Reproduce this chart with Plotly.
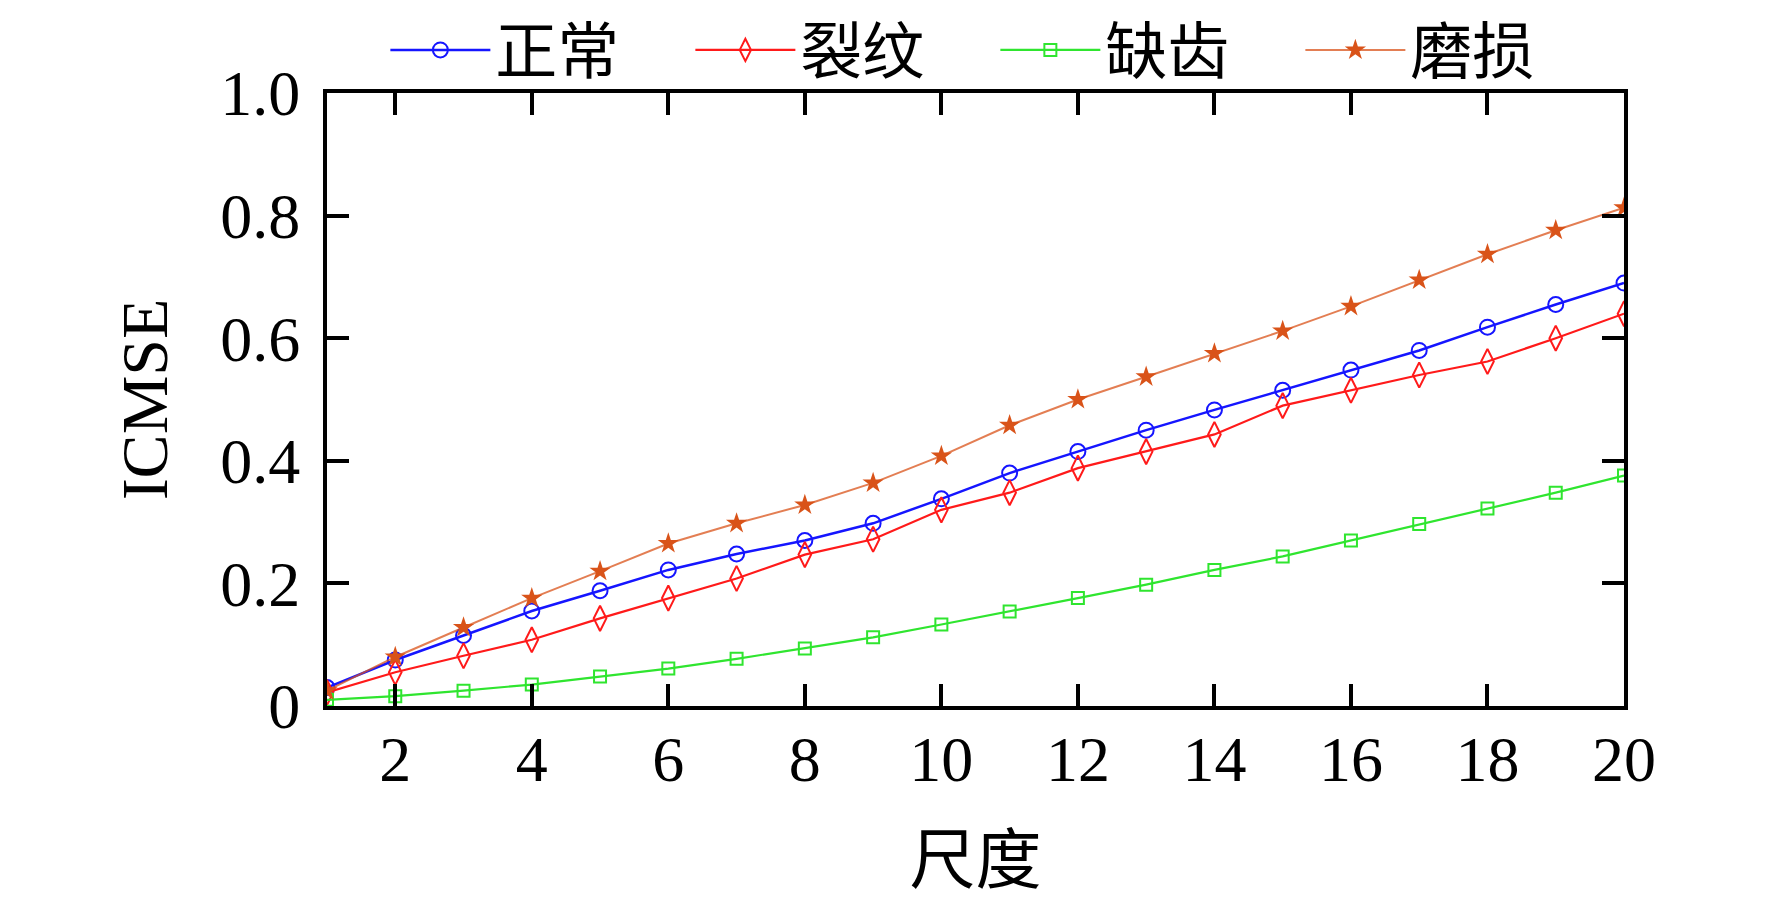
import plotly.graph_objects as go

# 尺度 1..20
scales = list(range(1, 21))

normal = [0.030, 0.075, 0.115, 0.155, 0.188, 0.222, 0.248, 0.270, 0.298, 0.338,
          0.380, 0.415, 0.450, 0.483, 0.515, 0.548, 0.580, 0.618, 0.655, 0.690]
crack = [0.022, 0.055, 0.082, 0.108, 0.143, 0.176, 0.208, 0.247, 0.272, 0.320,
         0.348, 0.388, 0.415, 0.443, 0.490, 0.515, 0.540, 0.562, 0.600, 0.640]
missing = [0.010, 0.016, 0.025, 0.035, 0.048, 0.061, 0.077, 0.094, 0.112, 0.133,
           0.154, 0.176, 0.198, 0.222, 0.244, 0.270, 0.297, 0.322, 0.348, 0.376]
wear = [0.025, 0.080, 0.128, 0.176, 0.220, 0.265, 0.298, 0.328, 0.364, 0.408,
        0.458, 0.500, 0.537, 0.575, 0.612, 0.652, 0.695, 0.737, 0.776, 0.813]

names = ["正常", "裂纹", "缺齿", "磨损"]

xticks = list(range(2, 21, 2))
yticks = [0, 0.2, 0.4, 0.6, 0.8, 1.0]
yticktext = ["0", "0.2", "0.4", "0.6", "0.8", "1.0"]

FONT = "Liberation Serif, Times New Roman, Noto Sans CJK SC, serif"

fig = go.Figure()

fig.add_trace(go.Scatter(
    x=scales, y=normal, name=names[0], mode="lines+markers",
    line=dict(color="#1515ff", width=2.5),
    marker=dict(symbol="circle-open", size=15, color="#1515ff", line=dict(width=2))
))
fig.add_trace(go.Scatter(
    x=scales, y=crack, name=names[1], mode="lines+markers",
    line=dict(color="#ff1a1a", width=2.2),
    marker=dict(symbol="diamond-tall-open", size=18, color="#ff1a1a", line=dict(width=2))
))
fig.add_trace(go.Scatter(
    x=scales, y=missing, name=names[2], mode="lines+markers",
    line=dict(color="#2fe52f", width=2.2),
    marker=dict(symbol="square-open", size=12, color="#2fe52f", line=dict(width=2))
))
fig.add_trace(go.Scatter(
    x=scales, y=wear, name=names[3], mode="lines+markers",
    line=dict(color="rgba(217,83,25,0.75)", width=2),
    marker=dict(symbol="star", size=16, color="#d95319")
))

fig.update_layout(
    width=1772,
    height=901,
    margin=dict(l=319, r=156, t=85, b=203, autoexpand=False),
    paper_bgcolor="white",
    plot_bgcolor="white",
    font=dict(family=FONT, size=62, color="black"),
    showlegend=True,
    legend=dict(
        orientation="h",
        x=0.045, xanchor="left",
        y=1.07, yanchor="middle",
        font=dict(family=FONT, size=62),
        entrywidth=190,
        itemwidth=100,
        bgcolor="rgba(0,0,0,0)",
    ),
)

fig.update_xaxes(
    range=[1, 20],
    tickvals=xticks,
    ticks="inside", ticklen=22, tickwidth=4, tickcolor="black",
    showline=True, linewidth=4, linecolor="black", mirror="ticks",
    showgrid=False, zeroline=False,
    tickfont=dict(family=FONT, size=64),
    ticklabelstandoff=-6,
    title=dict(text="尺度", font=dict(family=FONT, size=66), standoff=44),
)
fig.update_yaxes(
    range=[0, 1.0],
    tickvals=yticks, ticktext=yticktext,
    ticks="inside", ticklen=22, tickwidth=4, tickcolor="black",
    showline=True, linewidth=4, linecolor="black", mirror="ticks",
    showgrid=False, zeroline=False,
    tickfont=dict(family=FONT, size=64),
    ticklabelstandoff=10,
    title=dict(text="ICMSE", font=dict(family=FONT, size=66), standoff=32),
)

fig.write_html("out.html")
